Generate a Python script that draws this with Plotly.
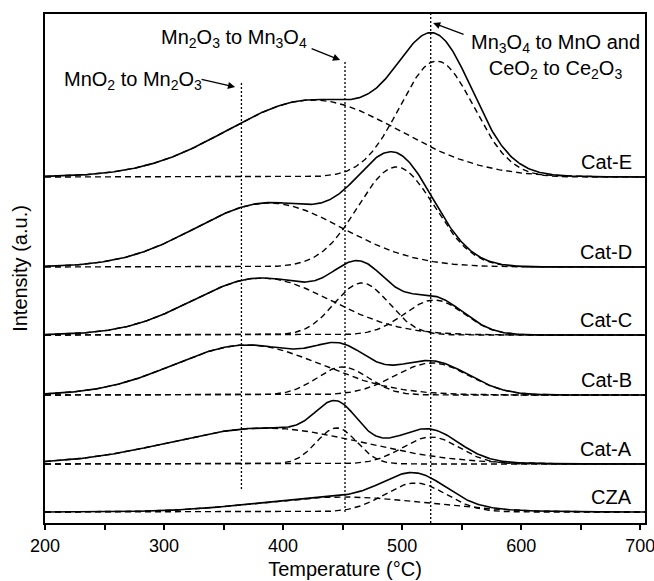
import numpy as np
import plotly.graph_objects as go

# ---- Data (TPR profiles, Gaussian deconvolution) ----
samples = ["CZA", "Cat-A", "Cat-B", "Cat-C", "Cat-D", "Cat-E"]
baseline_offsets = [11, 59, 128, 188, 256, 346]   # vertical stacking of profiles (a.u.)

cza_centers = [450, 511]
cza_heights = [15, 29]
cza_widths = [70, 26]

cata_centers = [385, 445, 524]
cata_heights = [36, 36, 27]
cata_widths = [80, 17, 24]

catb_centers = [370, 450, 525]
catb_heights = [50, 28, 32]
catb_widths = [62, 22, 31]

catc_centers = [382, 466, 527]
catc_heights = [57, 52, 35]
catc_widths = [58, 23, 25]

catd_centers = [388, 495]
catd_heights = [64, 100]
catd_widths = [62, 32]

cate_centers = [425, 529]
cate_heights = [77, 116]
cate_widths = [72, 31]

marker_temps = [365, 452, 524]
marker_labels = ["MnO<sub>2</sub> to Mn<sub>2</sub>O<sub>3</sub>",
                 "Mn<sub>2</sub>O<sub>3</sub> to Mn<sub>3</sub>O<sub>4</sub>",
                 "Mn<sub>3</sub>O<sub>4</sub> to MnO and<br>CeO<sub>2</sub> to Ce<sub>2</sub>O<sub>3</sub>"]

x_tickvals = [200, 300, 400, 500, 600, 700]

peaks = [
    (cza_centers, cza_heights, cza_widths),
    (cata_centers, cata_heights, cata_widths),
    (catb_centers, catb_heights, catb_widths),
    (catc_centers, catc_heights, catc_widths),
    (catd_centers, catd_heights, catd_widths),
    (cate_centers, cate_heights, cate_widths),
]

T = np.linspace(200, 704, 505)

fig = go.Figure()
FONT = "Liberation Sans, Arial, sans-serif"

for name, off, (cs, hs, ws) in zip(samples, baseline_offsets, peaks):
    comps = [h * np.exp(-((T - c) ** 2) / (2 * w ** 2)) for c, h, w in zip(cs, hs, ws)]
    for comp in comps:
        fig.add_trace(go.Scatter(x=T, y=comp + off, mode="lines",
                                 line=dict(color="black", width=1.4, dash="6px,4px"),
                                 showlegend=False, hoverinfo="skip"))
    total = np.sum(comps, axis=0)
    fig.add_trace(go.Scatter(x=T, y=total + off, mode="lines", name=name,
                             line=dict(color="black", width=1.6),
                             showlegend=False))
    fig.add_annotation(x=695, y=off + 15, xref="x", yref="y", text=name,
                       showarrow=False, xanchor="right", yanchor="middle",
                       font=dict(family=FONT, size=20, color="black"))

# vertical reference lines
line_spans = [(34, 441), (11, 461), (0, 509)]
for t, (y0, y1) in zip(marker_temps, line_spans):
    fig.add_trace(go.Scatter(x=[t, t], y=[y0, y1], mode="lines",
                             line=dict(color="black", width=1.3, dash="2px,2px"),
                             showlegend=False, hoverinfo="skip"))

# label texts
fig.add_annotation(x=273.5, y=443, xref="x", yref="y", text=marker_labels[0],
                   showarrow=False, font=dict(family=FONT, size=20, color="black"))
fig.add_annotation(x=359, y=485, xref="x", yref="y", text=marker_labels[1],
                   showarrow=False, font=dict(family=FONT, size=20, color="black"))
fig.add_annotation(x=629, y=467, xref="x", yref="y", text=marker_labels[2],
                   showarrow=False, align="center",
                   font=dict(family=FONT, size=20, color="black"))

# arrows
arrows = [((330.3, 444), (359.7, 436)), ((422.7, 475), (447.9, 463)), ((552.9, 488), (526, 500))]
for (tx, ty), (hx, hy) in arrows:
    fig.add_annotation(x=hx, y=hy, ax=tx, ay=ty, xref="x", yref="y", axref="x", ayref="y",
                       text="", showarrow=True, arrowhead=2, arrowsize=1.1, arrowwidth=1.3,
                       arrowcolor="black")

fig.update_layout(
    width=654, height=581, autosize=False,
    margin=dict(l=45, r=9, t=14, b=58),
    paper_bgcolor="white", plot_bgcolor="white",
    font=dict(family=FONT, size=18, color="black"),
    xaxis=dict(range=[200, 704], tickvals=x_tickvals, ticks="outside", ticklen=5, tickwidth=1.5,
               tickcolor="black", showline=True, linecolor="black", linewidth=2, mirror=True,
               showgrid=False, zeroline=False, automargin=False, ticklabeloverflow="allow",
               minor=dict(dtick=50, tick0=200, ticks="outside", ticklen=5, tickwidth=1.5,
                          tickcolor="black", showgrid=False),
               tickfont=dict(family=FONT, size=18),
               title=dict(text="Temperature (°C)", font=dict(family=FONT, size=20), standoff=7)),
    yaxis=dict(range=[0, 509], showticklabels=False, ticks="", showline=True, linecolor="black",
               linewidth=2, mirror=True, showgrid=False, zeroline=False, automargin=False,
               title=dict(text="Intensity (a.u.)", font=dict(family=FONT, size=20), standoff=10)),
)

fig.write_html("out.html")
